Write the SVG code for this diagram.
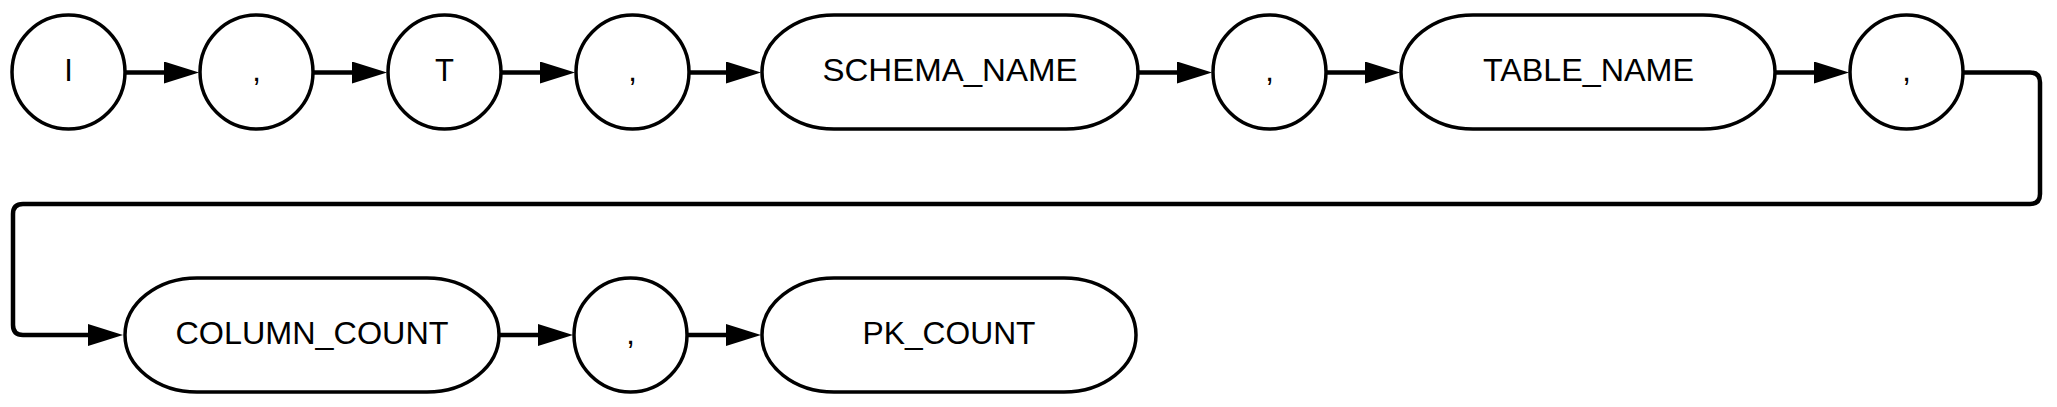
<svg xmlns="http://www.w3.org/2000/svg" width="2057" height="407" viewBox="0 0 2057 407">
<defs>
<marker id="arr" markerUnits="userSpaceOnUse" markerWidth="36" markerHeight="23" refX="15" refY="11" orient="auto">
<path d="M0,0 L35,11 L0,22 Z" fill="#000"/>
</marker>
<style>
.n{fill:#fff;stroke:#000;stroke-width:3.5}
.t{font-family:"Liberation Sans",Arial,sans-serif;font-size:31px;fill:#000;text-anchor:middle}
.c{fill:none;stroke:#000;stroke-width:4.5}
</style>
</defs>
<rect width="2057" height="407" fill="#fff"/>
<g id="connectors">
<path class="c" d="M125,72.5 H179" marker-end="url(#arr)"/>
<path class="c" d="M313,72.5 H367" marker-end="url(#arr)"/>
<path class="c" d="M501,72.5 H555" marker-end="url(#arr)"/>
<path class="c" d="M689,72.5 H741" marker-end="url(#arr)"/>
<path class="c" d="M1138,72.5 H1192" marker-end="url(#arr)"/>
<path class="c" d="M1326,72.5 H1380" marker-end="url(#arr)"/>
<path class="c" d="M1775,72.5 H1829" marker-end="url(#arr)"/>
<path class="c" d="M1963,72.5 H2030 Q2040,72.5 2040,82.5 V194 Q2040,204 2030,204 H23 Q13,204 13,214 V325 Q13,335 23,335 H103" marker-end="url(#arr)"/>
<path class="c" d="M499,335 H553" marker-end="url(#arr)"/>
<path class="c" d="M687,335 H741" marker-end="url(#arr)"/>
</g>
<g id="n1"><ellipse class="n" cx="68.5" cy="72" rx="56.5" ry="57"/><text class="t" x="68.5" y="81">I</text></g>
<g id="n2"><ellipse class="n" cx="256.5" cy="72" rx="56.5" ry="57"/><text class="t" x="256.5" y="81">,</text></g>
<g id="n3"><ellipse class="n" cx="444.5" cy="72" rx="56.5" ry="57"/><text class="t" x="444.5" y="81">T</text></g>
<g id="n4"><ellipse class="n" cx="632.5" cy="72" rx="56.5" ry="57"/><text class="t" x="632.5" y="81">,</text></g>
<g id="n5"><rect class="n" x="762" y="15" width="376" height="114" rx="72" ry="57"/><text class="t" x="950" y="81" textLength="255" lengthAdjust="spacingAndGlyphs">SCHEMA_NAME</text></g>
<g id="n6"><ellipse class="n" cx="1269.5" cy="72" rx="56.5" ry="57"/><text class="t" x="1269.5" y="81">,</text></g>
<g id="n7"><rect class="n" x="1401" y="15" width="374" height="114" rx="72" ry="57"/><text class="t" x="1588.5" y="81" textLength="211" lengthAdjust="spacingAndGlyphs">TABLE_NAME</text></g>
<g id="n8"><ellipse class="n" cx="1906.5" cy="72" rx="56.5" ry="57"/><text class="t" x="1906.5" y="81">,</text></g>
<g id="n9"><rect class="n" x="125" y="278" width="374" height="114" rx="72" ry="57"/><text class="t" x="312" y="344" textLength="273" lengthAdjust="spacingAndGlyphs">COLUMN_COUNT</text></g>
<g id="n10"><ellipse class="n" cx="630.5" cy="335" rx="56.5" ry="57"/><text class="t" x="630.5" y="344">,</text></g>
<g id="n11"><rect class="n" x="762" y="278" width="374" height="114" rx="72" ry="57"/><text class="t" x="949" y="344" textLength="173" lengthAdjust="spacingAndGlyphs">PK_COUNT</text></g>
</svg>
